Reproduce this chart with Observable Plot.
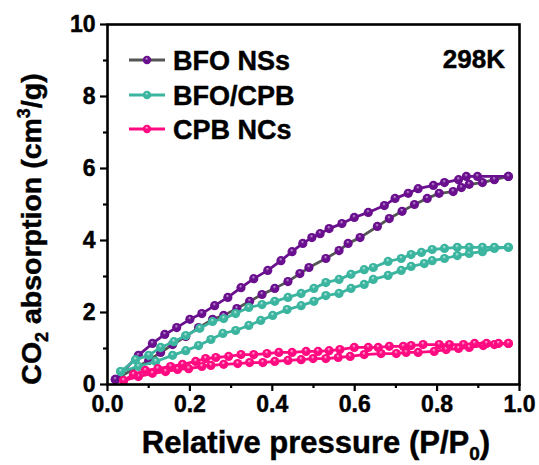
<!DOCTYPE html>
<html>
<head>
<meta charset="utf-8">
<script src="https://cdn.jsdelivr.net/npm/d3@7"></script>
<script src="https://cdn.jsdelivr.net/npm/@observablehq/plot@0.6"></script>
<style>
  html, body { margin: 0; padding: 0; background: #fff; }
  svg text { stroke: black; stroke-width: 0.45px; paint-order: stroke; }
</style>
</head>
<body>
<div id="chart"></div>
<script>
// ---- Data ----
const seriesNames = ["BFO NSs", "BFO/CPB", "CPB NCs"];
const xTicks = [0, 0.2, 0.4, 0.6, 0.8, 1.0];
const xMinor = [0.1, 0.3, 0.5, 0.7, 0.9];
const yTicks = [0, 2, 4, 6, 8, 10];
const yMinor = [1, 3, 5, 7, 9];

// BFO NSs adsorption (lower branch)
const bfoAdsX = [0.019,0.100,0.129,0.158,0.190,0.221,0.255,0.282,0.314,0.345,0.375,0.406,0.438,0.467,0.489,0.530,0.562,0.584,0.613,0.655,0.684,0.715,0.745,0.776,0.805,0.839,0.859,0.878,0.910,0.939,0.973];
const bfoAdsY = [0.14,0.67,0.89,1.11,1.33,1.58,1.81,1.92,2.11,2.31,2.50,2.67,2.86,3.08,3.25,3.50,3.72,3.92,4.08,4.39,4.61,4.81,5.00,5.17,5.31,5.36,5.47,5.56,5.61,5.69,5.78];
// BFO NSs desorption (upper branch)
const bfoDesX = [0.019,0.075,0.109,0.139,0.168,0.200,0.229,0.260,0.292,0.324,0.355,0.389,0.421,0.448,0.474,0.496,0.516,0.538,0.569,0.599,0.633,0.672,0.698,0.730,0.754,0.791,0.818,0.852,0.871,0.898,0.973];
const bfoDesY = [0.14,0.81,1.14,1.39,1.58,1.81,1.97,2.19,2.42,2.69,2.94,3.17,3.44,3.69,3.92,4.08,4.19,4.33,4.47,4.64,4.78,4.97,5.17,5.31,5.44,5.53,5.61,5.69,5.78,5.78,5.78];

// BFO/CPB adsorption (lower branch)
const bcAdsX = [0.032,0.075,0.117,0.158,0.190,0.221,0.251,0.280,0.311,0.343,0.372,0.401,0.436,0.470,0.501,0.530,0.562,0.591,0.623,0.645,0.681,0.713,0.737,0.769,0.788,0.818,0.849,0.878,0.910,0.939,0.973];
const bcAdsY = [0.36,0.50,0.64,0.81,0.94,1.08,1.25,1.42,1.50,1.64,1.78,1.92,2.08,2.19,2.31,2.47,2.53,2.67,2.78,2.92,3.03,3.17,3.28,3.36,3.44,3.50,3.58,3.64,3.69,3.78,3.81];
// BFO/CPB desorption (upper branch)
const bcDesX = [0.032,0.068,0.100,0.129,0.161,0.190,0.224,0.255,0.282,0.311,0.343,0.375,0.406,0.438,0.470,0.501,0.530,0.562,0.591,0.623,0.645,0.681,0.713,0.737,0.762,0.788,0.818,0.849,0.878,0.910,0.939,0.973];
const bcDesY = [0.36,0.69,0.81,1.03,1.19,1.36,1.56,1.75,1.83,1.97,2.14,2.22,2.31,2.42,2.53,2.67,2.83,2.92,3.06,3.19,3.25,3.42,3.50,3.61,3.67,3.75,3.78,3.81,3.81,3.81,3.81,3.81];

// CPB NCs adsorption (lower branch)
const cpbAdsX = [0.039,0.075,0.109,0.141,0.170,0.197,0.229,0.251,0.282,0.316,0.345,0.377,0.406,0.438,0.470,0.499,0.530,0.560,0.589,0.623,0.664,0.701,0.725,0.754,0.793,0.822,0.852,0.878,0.912,0.939,0.973];
const cpbAdsY = [0.11,0.22,0.31,0.36,0.42,0.44,0.50,0.53,0.56,0.58,0.61,0.61,0.64,0.67,0.69,0.72,0.72,0.75,0.78,0.83,0.86,0.86,0.89,0.89,0.92,0.97,1.00,1.03,1.08,1.11,1.14];
// CPB NCs desorption (upper branch)
const cpbDesX = [0.039,0.063,0.092,0.122,0.153,0.182,0.214,0.238,0.263,0.294,0.324,0.355,0.387,0.416,0.448,0.482,0.511,0.538,0.564,0.599,0.633,0.657,0.684,0.718,0.737,0.766,0.805,0.830,0.864,0.891,0.920,0.949,0.973];
const cpbDesY = [0.11,0.28,0.39,0.44,0.50,0.56,0.64,0.72,0.75,0.78,0.83,0.83,0.86,0.89,0.89,0.92,0.92,0.94,0.97,1.03,1.03,1.03,1.06,1.06,1.08,1.11,1.11,1.11,1.11,1.14,1.14,1.14,1.14];

// ---- Styles ----
const purple = "#6a0f8e";
const gray = "#555555";
const teal = "#3bb59f";
const pink = "#ff0a80";

const toRows = (xs, ys) => xs.map((x, i) => ({x, y: ys[i]}));
const series = [
  {name: seriesNames[0], ads: toRows(bfoAdsX, bfoAdsY), des: toRows(bfoDesX, bfoDesY), adsLine: gray, desLine: purple, dot: purple, grad: "gPurple"},
  {name: seriesNames[1], ads: toRows(bcAdsX, bcAdsY), des: toRows(bcDesX, bcDesY), adsLine: teal, desLine: teal, dot: teal, grad: "gTeal"},
  {name: seriesNames[2], ads: toRows(cpbAdsX, cpbAdsY), des: toRows(cpbDesX, cpbDesY), adsLine: pink, desLine: pink, dot: pink, grad: "gPink"}
];

const marks = [];
for (const s of series) {
  marks.push(Plot.line(s.ads, {x: "x", y: "y", stroke: s.adsLine, strokeWidth: 2.8}));
  marks.push(Plot.line(s.des, {x: "x", y: "y", stroke: s.desLine, strokeWidth: 2.8}));
  marks.push(Plot.dot(s.ads, {x: "x", y: "y", r: 4.6, fill: `url(#${s.grad})`, stroke: "none"}));
  marks.push(Plot.dot(s.des, {x: "x", y: "y", r: 4.6, fill: `url(#${s.grad})`, stroke: "none"}));
}

const W = 539, H = 465;
const svg = Plot.plot({
  width: W,
  height: H,
  marginLeft: 107,
  marginRight: 20,
  marginTop: 24,
  marginBottom: 81,
  style: {fontFamily: "'Liberation Sans', Arial, sans-serif", fontSize: "23px", fontWeight: "bold", color: "black", background: "white"},
  x: {domain: [0, 1], label: null},
  y: {domain: [0, 10], label: null},
  marks: [
    Plot.axisX(xTicks, {tickSize: 7, tickPadding: 4, strokeWidth: 2.2, tickFormat: d3.format(".1f"), fontWeight: "bold"}),
    Plot.axisX(xMinor, {tickSize: 4, strokeWidth: 2.2, tickFormat: () => ""}),
    Plot.axisY(yTicks, {tickSize: 7, tickPadding: 5, strokeWidth: 2.2, tickFormat: d3.format("d"), fontWeight: "bold"}),
    Plot.axisY(yMinor, {tickSize: 4, strokeWidth: 2.2, tickFormat: () => ""}),
    ...marks,
    Plot.frame({stroke: "black", strokeWidth: 2.6})
  ]
});

const root = d3.select(svg);
// gradients for sphere-like markers
const defs = root.insert("defs", ":first-child");
const grads = [["gPurple", purple, "#c9a6dc"], ["gTeal", teal, "#c8efe7"], ["gPink", pink, "#ffc2de"]];
for (const [id, c, hi] of grads) {
  const g = defs.append("radialGradient").attr("id", id).attr("cx", "50%").attr("cy", "50%").attr("r", "55%").attr("fx", "45%").attr("fy", "30%");
  g.append("stop").attr("offset", "0%").attr("stop-color", hi);
  g.append("stop").attr("offset", "35%").attr("stop-color", c);
  g.append("stop").attr("offset", "100%").attr("stop-color", c);
}

const font = "'Liberation Sans', Arial, sans-serif";
// X axis title
const xt = root.append("text").attr("x", 316).attr("y", 453).attr("text-anchor", "middle")
  .attr("font-family", font).attr("font-weight", "bold").attr("font-size", 31).attr("fill", "black");
xt.append("tspan").text("Relative pressure (P/P");
xt.append("tspan").attr("font-size", 19).attr("dy", 7).text("0");
xt.append("tspan").attr("dy", -7).text(")");

// Y axis title
const yt = root.append("text").attr("transform", "translate(41,229) rotate(-90)").attr("text-anchor", "middle")
  .attr("font-family", font).attr("font-weight", "bold").attr("font-size", 28.5).attr("fill", "black");
yt.append("tspan").text("CO");
yt.append("tspan").attr("font-size", 18).attr("dy", 7).text("2");
yt.append("tspan").attr("dy", -7).text(" absorption (cm");
yt.append("tspan").attr("font-size", 18).attr("dy", -11).text("3");
yt.append("tspan").attr("dy", 11).text("/g)");

// Legend
const legendY = [60, 95, 129];
series.forEach((s, i) => {
  const y = legendY[i];
  root.append("line").attr("x1", 129).attr("x2", 165).attr("y1", y).attr("y2", y)
    .attr("stroke", s.adsLine).attr("stroke-width", 2.8);
  root.append("circle").attr("cx", 147).attr("cy", y).attr("r", 4.2).attr("fill", `url(#${s.grad})`);
  root.append("text").attr("x", 173).attr("y", y + 10).attr("text-anchor", "start").attr("font-family", font).attr("font-weight", "bold")
    .attr("font-size", 27).attr("fill", "black").text(s.name);
});
root.append("text").attr("x", 505).attr("y", 68).attr("text-anchor", "end").attr("font-family", font)
  .attr("font-weight", "bold").attr("font-size", 26).attr("fill", "black").text("298K");

document.getElementById("chart").appendChild(svg);
</script>
</body>
</html>
